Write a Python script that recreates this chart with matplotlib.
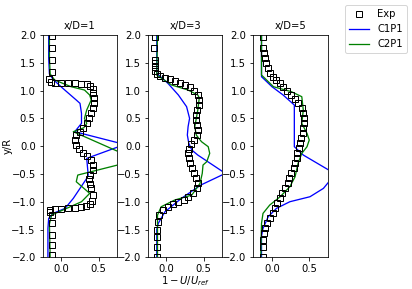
import matplotlib
matplotlib.use("Agg")
import matplotlib.pyplot as plt

titles = ["x/D=1", "x/D=3", "x/D=5"]
series_names = ["Exp", "C1P1", "C2P1"]

# ---- x/D = 1 ----
exp1_y = [1.98, 1.76, 1.55, 1.34, 1.2, 1.16, 1.14, 1.13, 1.13, 1.13, 1.12, 1.11, 1.08, 1.03, 0.95, 0.86,
          0.77, 0.68, 0.59, 0.5, 0.41, 0.32, 0.26, 0.2, 0.11, 0.02, -0.06, -0.12, -0.18, -0.25, -0.34,
          -0.43, -0.52, -0.6, -0.68, -0.76, -0.88, -0.98, -1.04, -1.08, -1.1, -1.11, -1.12, -1.13, -1.13,
          -1.14, -1.18, -1.24, -1.39, -1.6, -1.78, -1.96]
exp1_x = [-0.12, -0.12, -0.12, -0.12, -0.16, -0.14, -0.09, 0.0, 0.09, 0.18, 0.27, 0.34, 0.39, 0.42, 0.43, 0.44,
          0.44, 0.43, 0.40, 0.37, 0.34, 0.29, 0.25, 0.2, 0.18, 0.2, 0.24, 0.29, 0.34, 0.40, 0.43,
          0.42, 0.38, 0.37, 0.38, 0.40, 0.42, 0.41, 0.38, 0.33, 0.27, 0.18, 0.09, 0.0, -0.09,
          -0.15, -0.15, -0.13, -0.12, -0.12, -0.12, -0.12]
c1_1_y = [2.0, 1.6, 1.3, 1.2, 1.04, 0.83, 0.77, 0.59, 0.41, 0.26, 0.03, -0.22, -0.52, -0.58, -0.94, -1.12,
          -1.21, -1.3, -1.48, -2.0]
c1_1_x = [-0.17, -0.17, -0.16, -0.11, 0.02, 0.2, 0.25, 0.27, 0.27, 0.18, 0.85, 0.34, 0.36, 0.34, 0.16, 0.05,
          -0.11, -0.17, -0.18, -0.18]
c2_1_y = [2.0, 1.6, 1.3, 1.19, 1.07, 1.01, 0.92, 0.83, 0.65, 0.5, 0.41, 0.33, 0.26, -0.25, -0.52, -0.64,
          -0.85, -1.0, -1.24, -1.4, -2.0]
c2_1_x = [-0.16, -0.16, -0.15, -0.09, 0.13, 0.31, 0.38, 0.40, 0.34, 0.31, 0.34, 0.30, 0.16, 1.02, 0.22, 0.2,
          0.38, 0.27, -0.13, -0.16, -0.15]

# ---- x/D = 3 ----
exp2_y = [1.97, 1.76, 1.55, 1.49, 1.43, 1.35, 1.30, 1.26, 1.23, 1.20, 1.17, 1.14, 1.10, 1.06, 1.0, 0.92,
          0.83, 0.74, 0.65, 0.56, 0.47, 0.38, 0.29, 0.2, 0.11, 0.03, -0.05, -0.13, -0.22, -0.31, -0.4,
          -0.49, -0.58, -0.67, -0.76, -0.84, -0.91, -0.96, -1.0, -1.04, -1.09, -1.15, -1.24, -1.36,
          -1.51, -1.63, -1.81, -1.99]
exp2_x = [-0.16, -0.17, -0.16, -0.15, -0.16, -0.15, -0.13, -0.09, -0.02, 0.05, 0.11, 0.18, 0.25, 0.31, 0.37, 0.42,
          0.43, 0.43, 0.41, 0.40, 0.39, 0.41, 0.42, 0.41, 0.37, 0.33, 0.30, 0.29, 0.30, 0.32, 0.34,
          0.37, 0.40, 0.42, 0.41, 0.36, 0.29, 0.24, 0.16, 0.09, 0.02, -0.05, -0.1, -0.11,
          -0.12, -0.12, -0.12, -0.13]
c1_2_y = [2.0, 1.31, 1.13, 0.92, 0.71, 0.5, 0.35, 0.2, 0.05, -0.07, -0.16, -0.49, -0.70, -0.94, -1.18, -1.39,
          -1.5, -2.0]
c1_2_x = [-0.13, -0.13, 0.02, 0.16, 0.27, 0.31, 0.29, 0.28, 0.30, 0.34, 0.42, 0.79, 0.46, 0.2, -0.02, -0.11,
          -0.13, -0.13]
c2_2_y = [2.0, 1.28, 1.1, 1.01, 0.92, 0.87, 0.65, 0.35, 0.2, 0.08, -0.01, -0.13, -0.28, -0.34, -0.49, -0.67,
          -0.88, -0.97, -1.09, -1.24, -2.0]
c2_2_x = [-0.12, -0.13, 0.07, 0.29, 0.42, 0.44, 0.42, 0.38, 0.40, 0.47, 0.56, 0.58, 0.54, 0.49, 0.48, 0.45,
          0.34, 0.11, -0.07, -0.12, -0.12]

# ---- x/D = 5 ----
exp3_y = [1.97, 1.76, 1.67, 1.58, 1.49, 1.40, 1.32, 1.25, 1.19, 1.13, 1.06, 1.0, 0.92, 0.84, 0.77, 0.68,
          0.59, 0.5, 0.41, 0.32, 0.23, 0.14, 0.05, -0.04, -0.13, -0.22, -0.31, -0.40, -0.49, -0.58,
          -0.67, -0.76, -0.85, -0.94, -1.03, -1.12, -1.21, -1.30, -1.39, -1.48, -1.57, -1.69, -1.81, -1.99]
exp3_x = [-0.12, -0.12, -0.11, -0.09, -0.08, -0.05, -0.02, 0.02, 0.06, 0.11, 0.15, 0.2, 0.26, 0.31, 0.35, 0.40,
          0.42, 0.43, 0.43, 0.42, 0.41, 0.39, 0.37, 0.36, 0.34, 0.33, 0.31, 0.29, 0.26, 0.23,
          0.21, 0.18, 0.14, 0.11, 0.07, 0.04, 0.01, -0.03, -0.06, -0.09, -0.11, -0.12, -0.12, -0.12]
c1_3_y = [2.0, 1.25, 1.07, 0.92, 0.74, -0.01, -0.16, -0.5, -0.76, -0.91, -1.0, -1.12, -1.27, -1.48, -1.62, -2.0]
c1_3_x = [-0.14, -0.14, 0.0, 0.15, 0.30, 0.30, 0.42, 0.85, 0.69, 0.51, 0.24, 0.06, -0.05, -0.12, -0.14, -0.14]
c2_3_y = [2.0, 1.28, 1.07, 0.98, 0.89, 0.65, 0.41, 0.23, 0.11, -0.01, -0.13, -0.31, -0.55, -0.73, -0.91,
          -1.06, -1.21, -1.39, -2.0]
c2_3_x = [-0.14, -0.14, 0.02, 0.26, 0.40, 0.42, 0.40, 0.47, 0.5, 0.47, 0.40, 0.35, 0.31, 0.24, 0.11,
          -0.03, -0.12, -0.14, -0.15]

exp_data = [(exp1_x, exp1_y), (exp2_x, exp2_y), (exp3_x, exp3_y)]
c1_data = [(c1_1_x, c1_1_y), (c1_2_x, c1_2_y), (c1_3_x, c1_3_y)]
c2_data = [(c2_1_x, c2_1_y), (c2_2_x, c2_2_y), (c2_3_x, c2_3_y)]

yticks = [-2.0, -1.5, -1.0, -0.5, 0.0, 0.5, 1.0, 1.5, 2.0]
xticks = [0.0, 0.5]

W, H = 412, 289
fig = plt.figure(figsize=(W / 72, H / 72), dpi=72)
lefts = [42.7, 147.8, 253.3]
aw, ab, ah = 74.6, 289 - 257.3, 222.3

handles = None
for i in range(3):
    ax = fig.add_axes([lefts[i] / W, ab / H, aw / W, ah / H])
    ex, ey = exp_data[i]
    h0, = ax.plot(ex, ey, 's', color='k', mfc='none', ms=5.5, mew=1.0, label=series_names[0], zorder=3)
    h1, = ax.plot(*c1_data[i], '-', color='blue', lw=1.3, label=series_names[1])
    h2, = ax.plot(*c2_data[i], '-', color='green', lw=1.3, label=series_names[2])
    ax.set_xlim(-0.25, 0.75)
    ax.set_ylim(-2.0, 2.0)
    ax.set_yticks(yticks)
    ax.set_xticks(xticks)
    ax.set_title(titles[i], fontsize=10)
    if i == 0:
        ax.set_ylabel('y/R')
        ax.yaxis.set_label_coords(-0.40, 0.5)
        handles = [h0, h1, h2]
    if i == 1:
        ax.set_xlabel(r'$1-U/U_{ref}$', labelpad=0)

fig.legend(handles, series_names, loc='upper right')
fig.savefig('out.png', dpi=72)
